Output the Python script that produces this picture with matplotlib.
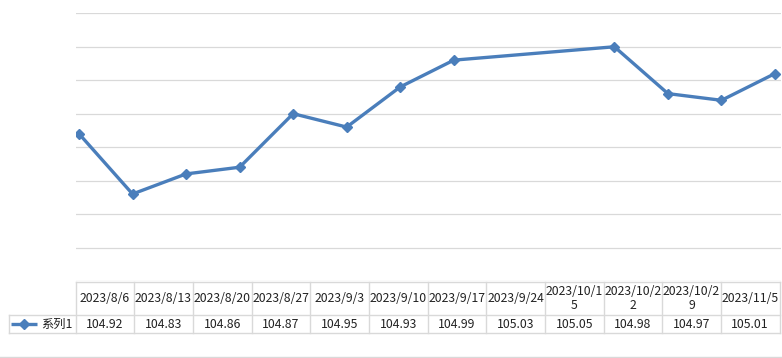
import matplotlib
matplotlib.use("Agg")
import matplotlib.pyplot as plt
import matplotlib.dates as mdates
from datetime import datetime, timedelta

plt.rcParams['font.family'] = ['Noto Sans CJK SC', 'DejaVu Sans']

dates = ["2023/8/6", "2023/8/13", "2023/8/20", "2023/8/27", "2023/9/3", "2023/9/10",
         "2023/9/17", "2023/9/24", "2023/10/15", "2023/10/22", "2023/10/29", "2023/11/5"]
values = [104.92, 104.83, 104.86, 104.87, 104.95, 104.93,
          104.99, 105.03, 105.05, 104.98, 104.97, 105.01]
value_labels = ["104.92", "104.83", "104.86", "104.87", "104.95", "104.93",
                "104.99", "105.03", "105.05", "104.98", "104.97", "105.01"]
series_name = "系列1"

W, H = 782, 358
DPI = 100
color = "#4A7EBB"
grid_c = "#D9D9D9"

fig = plt.figure(figsize=(W / DPI, H / DPI), dpi=DPI)

# pixel helpers
def fx(px):
    return px / W

def fy(py):
    return 1 - py / H

# main plot axes
ax_l, ax_r, ax_t, ax_b = 75.5, 780.5, 13.3, 281.0
ax = fig.add_axes([fx(ax_l), fy(ax_b), fx(ax_r - ax_l), (ax_b - ax_t) / H])
xd = [mdates.date2num(datetime.strptime(d, "%Y/%m/%d")) for d in dates]
ax.plot(xd, values, color=color, lw=2.4, marker="D", ms=5.5, zorder=3,
        solid_joinstyle="round")
px_per_day = (775 - 79) / (xd[-1] - xd[0])
ax.set_xlim(xd[0] - (79 - ax_l) / px_per_day, xd[-1] + (ax_r - 775) / px_per_day)
ax.set_ylim(104.70, 105.10)
ax.set_yticks([104.70 + 0.05 * i for i in range(9)])
ax.yaxis.grid(True, color=grid_c, lw=0.9)
ax.set_xticks([])
ax.tick_params(left=False, labelleft=False)
for s in ax.spines.values():
    s.set_visible(False)
ax.set_axisbelow(True)

# table overlay in pixel coords
tb = fig.add_axes([0, 0, 1, 1], facecolor="none")
tb.set_xlim(0, W)
tb.set_ylim(H, 0)
tb.axis("off")

t_left, t_right = 75.5, 779.5
r0, r1, r2 = 281.5, 314.5, 332.5
leg_left = 8.5
n = len(dates)
cw = (t_right - t_left) / n
lkw = dict(color=grid_c, lw=1.0)
tb.plot([t_left, t_right], [r0, r0], **lkw)
tb.plot([leg_left, t_right], [r1, r1], **lkw)
tb.plot([leg_left, t_right], [r2, r2], **lkw)
tb.plot([leg_left, leg_left], [r1, r2], **lkw)
for i in range(n + 1):
    x = t_left + i * cw
    tb.plot([x, x], [r0, r2], **lkw)

fs = 8.8
for i, (d, v) in enumerate(zip(dates, value_labels)):
    cx = t_left + (i + 0.5) * cw
    lab = d if len(d) <= 9 else d[:9] + "\n" + d[9:]
    tb.text(cx, (r0 + r1) / 2 + 0.5, lab, ha="center", va="center", fontsize=fs,
            linespacing=1.15, color="#222222")
    tb.text(cx, (r1 + r2) / 2 + 0.5, v, ha="center", va="center", fontsize=fs,
            color="#222222")

# legend key
ly = (r1 + r2) / 2
tb.plot([11, 37], [ly, ly], color=color, lw=2.4, solid_capstyle="butt")
tb.plot([24], [ly], color=color, marker="D", ms=5)
tb.text(41, ly + 0.5, series_name, ha="left", va="center", fontsize=fs, color="#222222")

# chart area bottom border
tb.plot([0, W], [357, 357], color="#D9D9D9", lw=1.0)

fig.savefig("out.png", dpi=DPI)
